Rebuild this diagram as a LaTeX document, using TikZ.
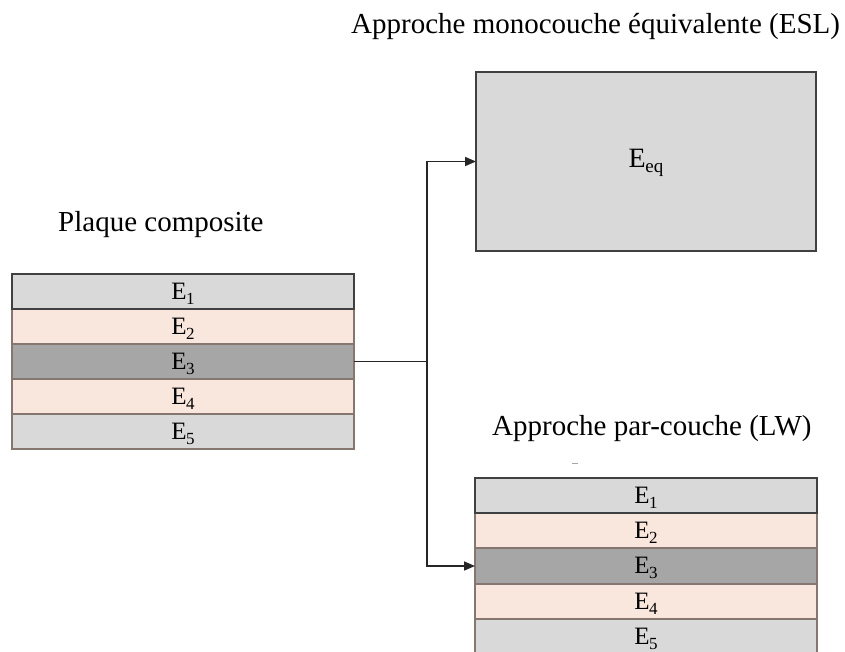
\documentclass[tikz,border=0pt]{standalone}
\usepackage{fontspec}
\setmainfont{Liberation Serif}
\usetikzlibrary{arrows.meta}
\definecolor{lgrey}{HTML}{D9D9D9}
\definecolor{peach}{HTML}{F9E7DD}
\definecolor{dgrey}{HTML}{A6A6A6}
\definecolor{edgebrown}{HTML}{857670}
\definecolor{edgedark}{HTML}{404040}
\newcommand{\lbl}[1]{E\kern-0.3pt\raisebox{-0.2em}{\fontsize{17}{17}\selectfont #1}}
\tikzset{
  layer/.style={draw=edgebrown, line width=1.6pt, minimum width=342pt, minimum height=35pt,
    inner sep=0pt, outer sep=0pt, anchor=north west, text height=15.6pt, text depth=0pt,
    font=\fontsize{25}{28}\selectfont},
  toplayer/.style={layer, draw=edgedark},
  title/.style={anchor=base west, inner sep=0pt, font=\fontsize{29}{34}\selectfont},
  conn/.style={line width=1.6pt, draw=black!85},
  tip/.style={-{Triangle[length=11pt,width=9pt]}}
}
\begin{document}
\begin{tikzpicture}[x=1pt,y=-1pt]
\useasboundingbox (0,0) rectangle (845,651);
\clip (0,0) rectangle (845,651);
% titles
\node[title] (tesl) at (351,33) {Approche monocouche équivalente (ESL)};
\node[title] (tplaque) at (58,231) {Plaque composite};
\node[title] (tlw) at (492,435) {Approche par-couche (LW)};
% left stack
\node[layer, fill=peach] (L2) at (12,309) {\lbl{2}};
\node[layer, fill=dgrey] (L3) at (12,344) {\lbl{3}};
\node[layer, fill=peach] (L4) at (12,379) {\lbl{4}};
\node[layer, fill=lgrey] (L5) at (12,414) {\lbl{5}};
\node[toplayer, fill=lgrey] (L1) at (12,274) {\lbl{1}};
% ESL box
\node[draw=edgedark, fill=lgrey, line width=1.6pt, minimum width=340pt, minimum height=179pt,
  inner sep=0pt, outer sep=0pt, anchor=north west, text height=11pt, text depth=0pt,
  font=\fontsize{28}{30}\selectfont] (esl) at (476,72)
  {E\kern-0.3pt\raisebox{-0.2em}{\fontsize{19}{19}\selectfont eq}};
% right stack
\node[layer, fill=peach] (R2) at (475,513) {\lbl{2}};
\node[layer, fill=dgrey] (R3) at (475,548.5) {\lbl{3}};
\node[layer, fill=peach] (R4) at (475,584) {\lbl{4}};
\node[layer, fill=lgrey] (R5) at (475,619) {\lbl{5}};
\node[toplayer, fill=lgrey] (R1) at (475,478) {\lbl{1}};
% stray mark
\draw[black!35, line width=1pt] (572,463) -- (578,463);
% connectors
\draw[conn] (L3.east) -- (427,0 |- L3.east) coordinate (j);
\draw[conn, tip] (j) |- (esl.west);
\draw[conn, tip] (j) |- (R3.west);
\end{tikzpicture}
\end{document}
